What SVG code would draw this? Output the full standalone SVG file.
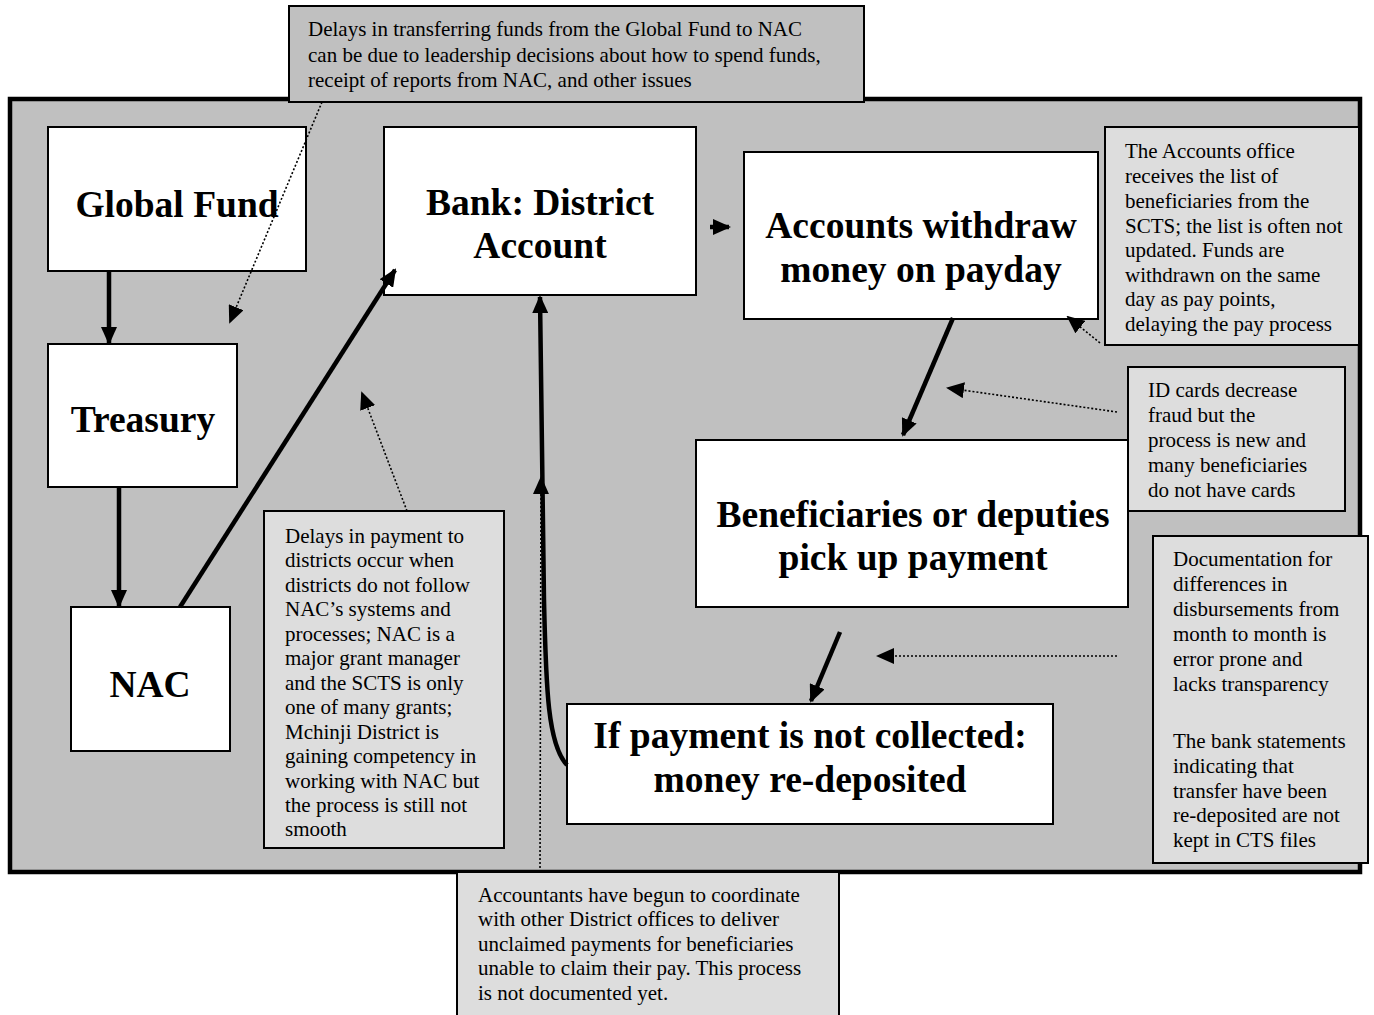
<svg xmlns="http://www.w3.org/2000/svg" width="1374" height="1015" viewBox="0 0 1374 1015">
<style>
.node{fill:#fff;stroke:#000;stroke-width:2}
.nt{font-family:"Liberation Serif","Times New Roman",serif;font-weight:bold;font-size:37.5px;fill:#000;text-anchor:middle}
.co{fill:#dddddd;stroke:#000;stroke-width:2}
.ct{font-family:"Liberation Serif","Times New Roman",serif;font-size:21px;fill:#000}
.thick{stroke:#000;stroke-width:4.5;fill:none}
.dot{stroke:#000;stroke-width:1.6;stroke-dasharray:2 2;fill:none}
</style>
<defs>
<marker id="ah" markerUnits="userSpaceOnUse" markerWidth="18" markerHeight="16" refX="16" refY="8" orient="auto"><path d="M0,0 L18,8 L0,16 Z" fill="#000"/></marker>
<marker id="dh" markerUnits="userSpaceOnUse" markerWidth="18" markerHeight="16" refX="16" refY="8" orient="auto"><path d="M0,0 L18,8 L0,16 Z" fill="#000"/></marker>
</defs>
<rect width="1374" height="1015" fill="#fff"/>
<g id="panel"><rect x="10" y="99" width="1350" height="773" fill="#c0c0c0" stroke="#000" stroke-width="4.5"/></g>

<g id="global-fund"><rect class="node" x="48" y="127" width="258" height="144"/><text class="nt" x="177" y="217">Global Fund</text></g>
<g id="treasury"><rect class="node" x="48" y="344" width="189" height="143"/><text class="nt" x="143" y="432">Treasury</text></g>
<g id="nac"><rect class="node" x="71" y="607" width="159" height="144"/><text class="nt" x="150" y="697">NAC</text></g>
<g id="bank"><rect class="node" x="384" y="127" width="312" height="168"/><text class="nt" x="540" y="215">Bank: District</text><text class="nt" x="540" y="258">Account</text></g>
<g id="accounts"><rect class="node" x="744" y="152" width="354" height="167"/><text class="nt" x="921" y="238">Accounts withdraw</text><text class="nt" x="921" y="282">money on payday</text></g>
<g id="beneficiaries"><rect class="node" x="696" y="440" width="432" height="167"/><text class="nt" x="913" y="527">Beneficiaries or deputies</text><text class="nt" x="913" y="570">pick up payment</text></g>
<g id="redeposit"><rect class="node" x="567" y="704" width="486" height="120"/><text class="nt" x="810" y="748">If payment is not collected:</text><text class="nt" x="810" y="792">money re-deposited</text></g>

<g id="connectors">
<line class="thick" x1="109" y1="271" x2="109" y2="343" marker-end="url(#ah)"/>
<line class="thick" x1="119" y1="487" x2="119" y2="606" marker-end="url(#ah)"/>
<line class="thick" x1="180" y1="607" x2="395" y2="270" marker-end="url(#ah)"/>
<path class="thick" d="M567,765 C548,745 546,690 544,600 L540,297" marker-end="url(#ah)"/>
<line class="thick" x1="710" y1="227" x2="729" y2="227" marker-end="url(#ah)"/>
<line class="thick" x1="953" y1="318" x2="903" y2="435" marker-end="url(#ah)"/>
<line class="thick" x1="840" y1="632" x2="811" y2="701" marker-end="url(#ah)"/>
<line class="dot" x1="322" y1="102" x2="230" y2="322" marker-end="url(#dh)"/>
<line class="dot" x1="407" y1="511" x2="362" y2="393" marker-end="url(#dh)"/>
<line class="dot" x1="540" y1="872" x2="541" y2="478" marker-end="url(#dh)"/>
<line class="dot" x1="1100" y1="343" x2="1068" y2="317" marker-end="url(#dh)"/>
<line class="dot" x1="1117" y1="412" x2="948" y2="388" marker-end="url(#dh)"/>
<line class="dot" x1="1117" y1="656" x2="878" y2="656" marker-end="url(#dh)"/>
</g>

<g id="note-top"><rect x="289" y="6" width="575" height="96" fill="#c0c0c0" stroke="#000" stroke-width="2"/>
<text class="ct"><tspan x="308" y="36">Delays in transferring funds from the Global Fund to NAC</tspan><tspan x="308" y="62">can be due to leadership decisions about how to spend funds,</tspan><tspan x="308" y="87">receipt of reports from NAC, and other issues</tspan></text></g>

<g id="note-accounts"><rect class="co" x="1105" y="127" width="254" height="218"/>
<text class="ct"><tspan x="1125" y="158">The Accounts office</tspan><tspan x="1125" y="183">receives the list of</tspan><tspan x="1125" y="208">beneficiaries from the</tspan><tspan x="1125" y="233">SCTS; the list is often not</tspan><tspan x="1125" y="257">updated. Funds are</tspan><tspan x="1125" y="282">withdrawn on the same</tspan><tspan x="1125" y="306">day as pay points,</tspan><tspan x="1125" y="331">delaying the pay process</tspan></text></g>

<g id="note-id"><rect class="co" x="1128" y="367" width="217" height="144"/>
<text class="ct"><tspan x="1148" y="397">ID cards decrease</tspan><tspan x="1148" y="422">fraud but the</tspan><tspan x="1148" y="447">process is new and</tspan><tspan x="1148" y="472">many beneficiaries</tspan><tspan x="1148" y="497">do not have cards</tspan></text></g>

<g id="note-doc"><rect class="co" x="1153" y="536" width="215" height="327"/>
<text class="ct"><tspan x="1173" y="566">Documentation for</tspan><tspan x="1173" y="591">differences in</tspan><tspan x="1173" y="616">disbursements from</tspan><tspan x="1173" y="641">month to month is</tspan><tspan x="1173" y="666">error prone and</tspan><tspan x="1173" y="691">lacks transparency</tspan><tspan x="1173" y="748">The bank statements</tspan><tspan x="1173" y="773">indicating that</tspan><tspan x="1173" y="798">transfer have been</tspan><tspan x="1173" y="822">re-deposited are not</tspan><tspan x="1173" y="847">kept in CTS files</tspan></text></g>

<g id="note-payment"><rect class="co" x="264" y="511" width="240" height="337"/>
<text class="ct"><tspan x="285" y="543">Delays in payment to</tspan><tspan x="285" y="567">districts occur when</tspan><tspan x="285" y="592">districts do not follow</tspan><tspan x="285" y="616">NAC’s systems and</tspan><tspan x="285" y="641">processes; NAC is a</tspan><tspan x="285" y="665">major grant manager</tspan><tspan x="285" y="690">and the SCTS is only</tspan><tspan x="285" y="714">one of many grants;</tspan><tspan x="285" y="739">Mchinji District is</tspan><tspan x="285" y="763">gaining competency in</tspan><tspan x="285" y="788">working with NAC but</tspan><tspan x="285" y="812">the process is still not</tspan><tspan x="285" y="836">smooth</tspan></text></g>

<g id="note-accountants"><rect class="co" x="457" y="872" width="382" height="150"/>
<text class="ct"><tspan x="478" y="902">Accountants have begun to coordinate</tspan><tspan x="478" y="926">with other District offices to deliver</tspan><tspan x="478" y="951">unclaimed payments for beneficiaries</tspan><tspan x="478" y="975">unable to claim their pay. This process</tspan><tspan x="478" y="1000">is not documented yet.</tspan></text></g>
</svg>
